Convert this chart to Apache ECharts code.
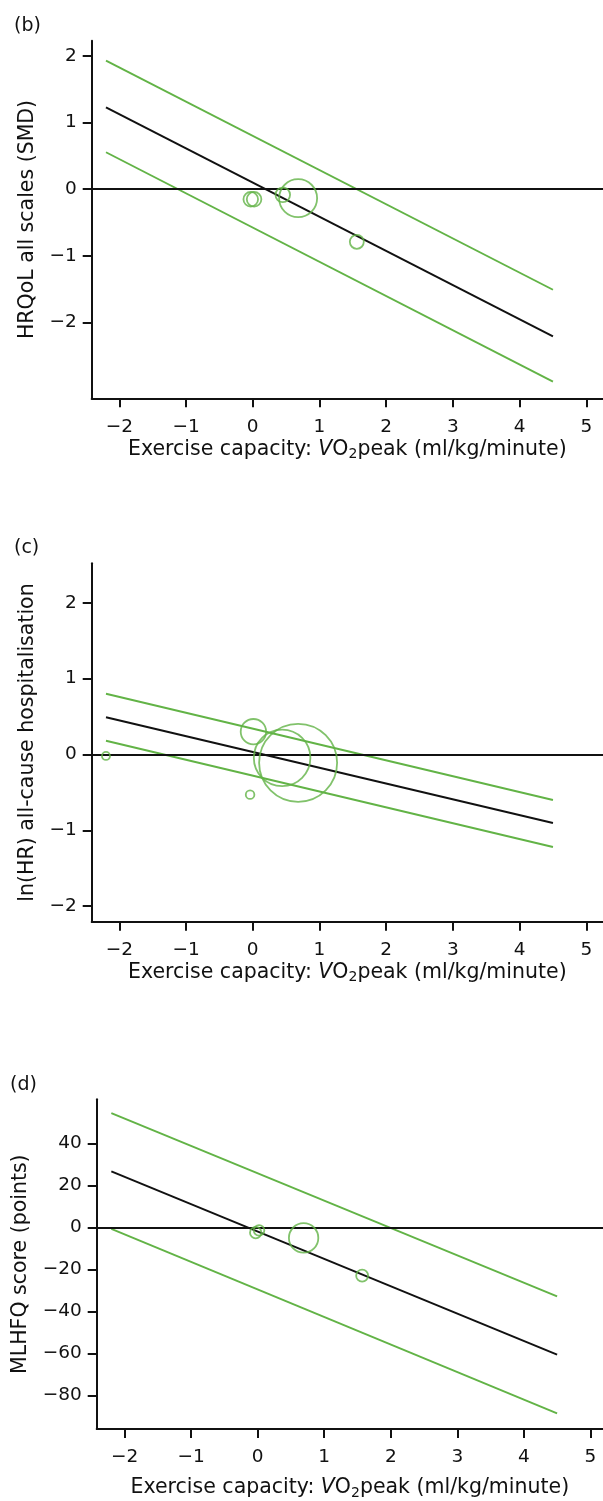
<!DOCTYPE html>
<html>
<head>
<meta charset="utf-8">
<script src="https://cdn.jsdelivr.net/npm/echarts@6/dist/echarts.min.js"></script>
<style>
  html, body { margin: 0; padding: 0; background: #fff; }
  #chart { width: 603px; height: 1501px; }
</style>
</head>
<body>
<div id="chart"></div>
<script>
// ---------- data ----------
const xTicks = [-2, -1, 0, 1, 2, 3, 4, 5];
const lineX = [-2.2, 4.5];

// (b) HRQoL all scales (SMD)
const bTicks = [-2, -1, 0, 1, 2];
const bFit = [1.23, -2.21];
const bUpper = [1.93, -1.51];
const bLower = [0.555, -2.89];
const bStudyX = [-0.03, 0.02, 0.45, 0.68, 1.56];
const bStudyY = [-0.15, -0.15, -0.085, -0.135, -0.79];
const bStudyW = [7.3, 7.3, 7.3, 19, 7];

// (c) ln(HR) all-cause hospitalisation
const cTicks = [-2, -1, 0, 1, 2];
const cFit = [0.49, -0.905];
const cUpper = [0.80, -0.60];
const cLower = [0.18, -1.22];
const cStudyX = [-2.2, -0.04, 0.01, 0.44, 0.68];
const cStudyY = [-0.02, -0.53, 0.30, -0.045, -0.11];
const cStudyW = [4, 4.3, 12.7, 28.3, 39];

// (d) MLHFQ score (points)
const dTicks = [-80, -60, -40, -20, 0, 20, 40];
const dFit = [26.8, -60.5];
const dUpper = [54.5, -32.7];
const dLower = [-0.6, -88.5];
const dStudyX = [-0.03, 0.02, 0.69, 1.57];
const dStudyY = [-2.4, -1.3, -4.9, -22.9];
const dStudyW = [5.7, 5.3, 14.7, 6];

const panelLabels = ['(b)', '(c)', '(d)'];
const yNames = ['HRQoL all scales (SMD)', 'ln(HR) all-cause hospitalisation', 'MLHFQ score (points)'];
const xName = '{n|Exercise capacity: }{i|V}{n|O}{s|2}{n|peak (ml/kg/minute)}';

// ---------- style ----------
const FONT = 'DejaVu Sans';
const GREEN = '#62b346';
const INK = '#111111';
const FS_TICK = 18.5;
const FS_NAME = 20.5;

const minus = v => String(v).replace('-', '\u2212');

function xAxisFor(gridIndex, min, max, gap) {
  return {
    type: 'value', gridIndex, min, max,
    name: xName, nameLocation: 'middle', nameGap: gap,
    nameTextStyle: {
      fontFamily: FONT, fontSize: FS_NAME, color: INK, lineHeight: 24,
      rich: {
        n: { fontFamily: FONT, fontSize: FS_NAME, color: INK, lineHeight: 24 },
        i: { fontFamily: FONT, fontSize: FS_NAME, color: INK, fontStyle: 'italic', lineHeight: 24 },
        s: { fontFamily: FONT, fontSize: 14, color: INK, lineHeight: 14, verticalAlign: 'bottom' }
      }
    },
    axisLine: { onZero: false, lineStyle: { color: INK, width: 2 } },
    axisTick: { show: true, length: 9, customValues: xTicks, lineStyle: { color: INK, width: 2 } },
    axisLabel: { customValues: xTicks, formatter: minus, margin: 19, fontFamily: FONT, fontSize: FS_TICK, color: INK },
    splitLine: { show: false }
  };
}

function yAxisFor(gridIndex, min, max, ticks, name, gap) {
  return {
    type: 'value', gridIndex, min, max,
    name, nameLocation: 'middle', nameGap: gap,
    nameTextStyle: { fontFamily: FONT, fontSize: FS_NAME, color: INK },
    axisLine: { onZero: false, lineStyle: { color: INK, width: 2 } },
    axisTick: { show: true, length: 9, customValues: ticks, lineStyle: { color: INK, width: 2 } },
    axisLabel: { customValues: ticks, formatter: minus, margin: 15, fontFamily: FONT, fontSize: FS_TICK, color: INK },
    splitLine: { show: false }
  };
}

function lineSeries(i, ys, color, width, withZero) {
  const s = {
    type: 'line', xAxisIndex: i, yAxisIndex: i,
    data: lineX.map((x, k) => [x, ys[k]]),
    symbol: 'none', silent: true,
    lineStyle: { color, width }
  };
  if (withZero) {
    s.markLine = {
      silent: true, symbol: ['none', 'none'], label: { show: false },
      lineStyle: { color: INK, width: 1.8, type: 'solid' },
      emphasis: { disabled: true },
      data: [{ yAxis: 0 }]
    };
  }
  return s;
}

function studySeries(i, xs, ys, ws) {
  return {
    type: 'scatter', xAxisIndex: i, yAxisIndex: i, z: 5,
    data: xs.map((x, k) => [x, ys[k], ws[k]]),
    symbol: 'circle',
    symbolSize: v => v[2] * 2,
    itemStyle: { color: 'rgba(0,0,0,0)', borderColor: GREEN, borderWidth: 1.8 }
  };
}

const option = {
  backgroundColor: '#fff',
  animation: false,
  title: [
    { text: panelLabels[0], left: 14, top: 17 },
    { text: panelLabels[1], left: 14, top: 539 },
    { text: panelLabels[2], left: 10, top: 1076 }
  ].map(t => Object.assign(t, { padding: 0, textStyle: { fontFamily: FONT, fontSize: 19, fontWeight: 'normal', color: INK } })),
  grid: [
    { left: 91.7, top: 40.7, right: 0, height: 357.6 },
    { left: 91.7, top: 563.3, right: 0, height: 358.4 },
    { left: 96.7, top: 1099.3, right: 0, height: 331.4 }
  ],
  xAxis: [
    xAxisFor(0, -2.414, 5.25, 39),
    xAxisFor(1, -2.414, 5.25, 38),
    xAxisFor(2, -2.42, 5.19, 47)
  ],
  yAxis: [
    yAxisFor(0, -3.14, 2.23, bTicks, yNames[0], 54),
    yAxisFor(1, -2.205, 2.52, cTicks, yNames[1], 54),
    yAxisFor(2, -95.9, 61.1, dTicks, yNames[2], 66)
  ],
  series: [
    lineSeries(0, bFit, INK, 2, true),
    lineSeries(0, bUpper, GREEN, 1.9),
    lineSeries(0, bLower, GREEN, 1.9),
    studySeries(0, bStudyX, bStudyY, bStudyW),

    lineSeries(1, cFit, INK, 2, true),
    lineSeries(1, cUpper, GREEN, 1.9),
    lineSeries(1, cLower, GREEN, 1.9),
    studySeries(1, cStudyX, cStudyY, cStudyW),

    lineSeries(2, dFit, INK, 2, true),
    lineSeries(2, dUpper, GREEN, 1.9),
    lineSeries(2, dLower, GREEN, 1.9),
    studySeries(2, dStudyX, dStudyY, dStudyW)
  ]
};

const chart = echarts.init(document.getElementById('chart'), null, { renderer: 'canvas' });
chart.setOption(option);
</script>
</body>
</html>
